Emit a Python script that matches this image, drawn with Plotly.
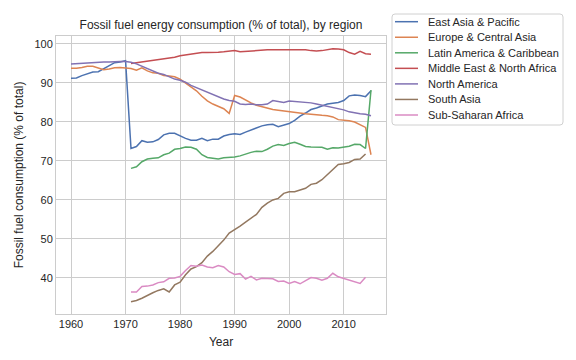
import plotly.graph_objects as go

years = list(range(1960, 2016))
years_71_15 = list(range(1971, 2016))
years_71_14 = list(range(1971, 2015))

east_asia_pacific = [
    91.2, 91.3, 91.9, 92.4, 92.8, 92.9, 93.6, 94.5, 95.2, 95.4, 95.7,
    73.2, 73.7, 75.2, 74.8, 74.9, 75.5, 76.7, 77.1, 77.1, 76.4,
    75.8, 75.3, 75.3, 75.8, 75.2, 75.6, 75.6, 76.4, 76.8, 77.0,
    76.8, 77.4, 78.0, 78.5, 79.0, 79.3, 79.4, 78.8, 79.2, 79.6,
    80.4, 81.5, 82.3, 83.2, 83.6, 84.2, 84.6, 84.8, 85.0, 85.5,
    86.7, 86.9, 86.8, 86.5, 88.0,
]
europe_central_asia = [
    93.8, 93.8, 94.0, 94.3, 94.3, 93.8, 93.4, 93.6, 93.9, 94.0, 93.8,
    93.7, 93.3, 93.9, 93.1, 92.6, 92.5, 91.9, 91.8, 91.6, 91.0,
    90.0, 89.0, 88.0, 86.6, 85.4, 84.6, 84.0, 83.4, 82.2, 86.8,
    86.4, 85.6, 84.9, 84.3, 83.9, 83.5, 83.2, 83.0, 82.8, 82.6,
    82.4, 82.2, 82.1, 82.0, 81.8, 81.7, 81.6, 81.3, 80.6, 80.5,
    80.3, 80.0, 79.3, 78.6, 71.6,
]
latin_america_caribbean = [
    68.1, 68.5, 69.8, 70.5, 70.7, 70.8, 71.6, 72.0, 73.0, 73.2,
    73.6, 73.5, 73.0, 71.6, 70.9, 70.7, 70.5, 70.8, 70.9, 71.0,
    71.3, 71.8, 72.2, 72.5, 72.4, 73.0, 73.8, 74.2, 74.0, 74.5,
    74.8, 74.3, 73.7, 73.6, 73.6, 73.5, 73.0, 73.4, 73.3, 73.6,
    73.8, 74.3, 74.2, 73.2, 88.2,
]
middle_east_north_africa = [
    95.0, 95.2, 95.4, 95.6, 95.8, 96.0, 96.2, 96.3, 96.6, 97.0,
    97.2, 97.4, 97.6, 97.8, 97.8, 97.8, 97.9, 98.0, 98.1, 98.3,
    98.0, 98.1, 98.3, 98.3, 98.4, 98.5, 98.5, 98.5, 98.6, 98.6,
    98.6, 98.5, 98.5, 98.3, 98.2, 98.3, 98.5, 98.8, 98.7, 98.5,
    97.8, 97.4, 98.1, 97.5, 97.4,
]
north_america = [
    94.9, 95.0, 95.1, 95.2, 95.3, 95.4, 95.4, 95.4, 95.5, 95.5, 95.5,
    95.3, 94.9, 94.3, 93.6, 92.9, 92.5, 92.2, 91.6, 91.0, 90.7,
    90.2, 89.4, 88.8, 88.2, 87.5, 86.9, 86.3, 85.9, 85.5, 85.3,
    84.6, 84.5, 84.6, 84.4, 84.4, 84.6, 85.5, 85.2, 85.0, 85.4,
    85.3, 85.2, 85.0, 84.9, 84.6, 84.3, 84.0, 83.6, 83.3, 83.1,
    82.6, 82.3, 82.1, 82.0, 81.6,
]
south_asia = [
    33.9, 34.2, 34.8, 35.6, 36.2, 36.8, 37.2, 36.4, 38.2, 38.9,
    40.8, 42.3, 42.9, 43.9, 45.6, 46.8, 48.2, 49.7, 51.5, 52.3,
    53.3, 54.3, 55.3, 56.3, 58.1, 59.2, 60.0, 60.4, 61.7, 62.1,
    62.1, 62.6, 63.0, 64.0, 64.3, 65.2, 66.5, 68.0, 69.1, 69.3,
    69.6, 70.4, 70.5, 71.8,
]
sub_saharan_africa = [
    36.4, 36.4, 37.8, 37.9, 38.2, 38.8, 39.0, 39.9, 40.0, 40.4,
    41.9, 43.2, 43.0, 43.3, 42.8, 42.6, 43.2, 42.8, 41.6, 40.9,
    41.1, 39.7, 40.4, 39.5, 39.9, 39.8, 39.8, 39.1, 39.2, 38.6,
    39.1, 38.5, 39.2, 40.1, 39.9, 39.4, 39.9, 41.2, 40.3, 39.9,
    39.5, 39.1, 38.6, 40.2,
]

series = [
    ("East Asia & Pacific", years, east_asia_pacific, "#4C72B0"),
    ("Europe & Central Asia", years, europe_central_asia, "#DD8452"),
    ("Latin America & Caribbean", years_71_15, latin_america_caribbean, "#55A868"),
    ("Middle East & North Africa", years_71_15, middle_east_north_africa, "#C44E52"),
    ("North America", years, north_america, "#8172B3"),
    ("South Asia", years_71_14, south_asia, "#937860"),
    ("Sub-Saharan Africa", years_71_14, sub_saharan_africa, "#DA8BC3"),
]

FONT = "Liberation Sans, Arial, sans-serif"
TXT = "#262626"
W, H = 576, 360
ML, MR, MT, MB = 56, 190, 36, 46
PW, PH = W - ML - MR, H - MT - MB


def px_x(px):
    return (px - ML) / PW


def px_y(py):
    return (H - MB - py) / PH


def rounded_rect_path(x0, y0, x1, y1, r):
    # pixel corners -> paper-coordinate SVG path with rounded corners
    X = px_x
    Y = px_y
    return (f"M {X(x0 + r)},{Y(y0)} L {X(x1 - r)},{Y(y0)} Q {X(x1)},{Y(y0)} {X(x1)},{Y(y0 + r)} "
            f"L {X(x1)},{Y(y1 - r)} Q {X(x1)},{Y(y1)} {X(x1 - r)},{Y(y1)} "
            f"L {X(x0 + r)},{Y(y1)} Q {X(x0)},{Y(y1)} {X(x0)},{Y(y1 - r)} "
            f"L {X(x0)},{Y(y0 + r)} Q {X(x0)},{Y(y0)} {X(x0 + r)},{Y(y0)} Z")


fig = go.Figure()
for name, xs, ys, color in series:
    fig.add_trace(go.Scatter(x=xs, y=ys, mode="lines", name=name,
                             line=dict(color=color, width=1.5),
                             showlegend=False))

# legend drawn as a boxed list (matplotlib-like compact layout)
shapes = [dict(type="path", xref="paper", yref="paper",
               path=rounded_rect_path(392, 14, 563, 125, 3),
               line=dict(color="#d0d0d0", width=1), fillcolor="white", layer="above")]
annotations = []
for i, (name, _, _, color) in enumerate(series):
    yc = px_y(21.7 + 15.55 * i)
    shapes.append(dict(type="line", xref="paper", yref="paper",
                       x0=px_x(395), x1=px_x(418), y0=yc, y1=yc,
                       line=dict(color=color, width=1.5), layer="above"))
    annotations.append(dict(text=name, xref="paper", yref="paper",
                            x=px_x(426), y=yc, xanchor="left", yanchor="middle",
                            showarrow=False,
                            font=dict(family=FONT, size=11, color=TXT)))

axis_common = dict(
    showgrid=True, gridcolor="#cccccc", gridwidth=1,
    showline=True, linecolor="#cccccc", linewidth=1, mirror=True,
    ticks="", zeroline=False,
    tickfont=dict(family=FONT, size=11, color=TXT),
)

fig.update_layout(
    width=W, height=H,
    margin=dict(l=ML, r=MR, t=MT, b=MB),
    paper_bgcolor="white", plot_bgcolor="white",
    font=dict(family=FONT, color=TXT),
    title=dict(text="Fossil fuel energy consumption (% of total), by region",
               x=(ML + W - MR) / 2 / W, xanchor="center",
               y=1 - 24.5 / H, yanchor="middle",
               font=dict(family=FONT, size=12, color=TXT)),
    xaxis=dict(range=[1957.25, 2017.75], tickvals=[1960, 1970, 1980, 1990, 2000, 2010],
               title=dict(text="Year", font=dict(family=FONT, size=12, color=TXT), standoff=8),
               **axis_common),
    yaxis=dict(range=[30.75, 102.05], tickvals=[40, 50, 60, 70, 80, 90, 100],
               title=dict(text="Fossil fuel consumption (% of total)",
                          font=dict(family=FONT, size=12, color=TXT), standoff=8),
               **axis_common),
    shapes=shapes,
    annotations=annotations,
    showlegend=False,
)

fig.write_html("out.html", config={"displayModeBar": False},
               post_script="document.body.style.margin='0';")
